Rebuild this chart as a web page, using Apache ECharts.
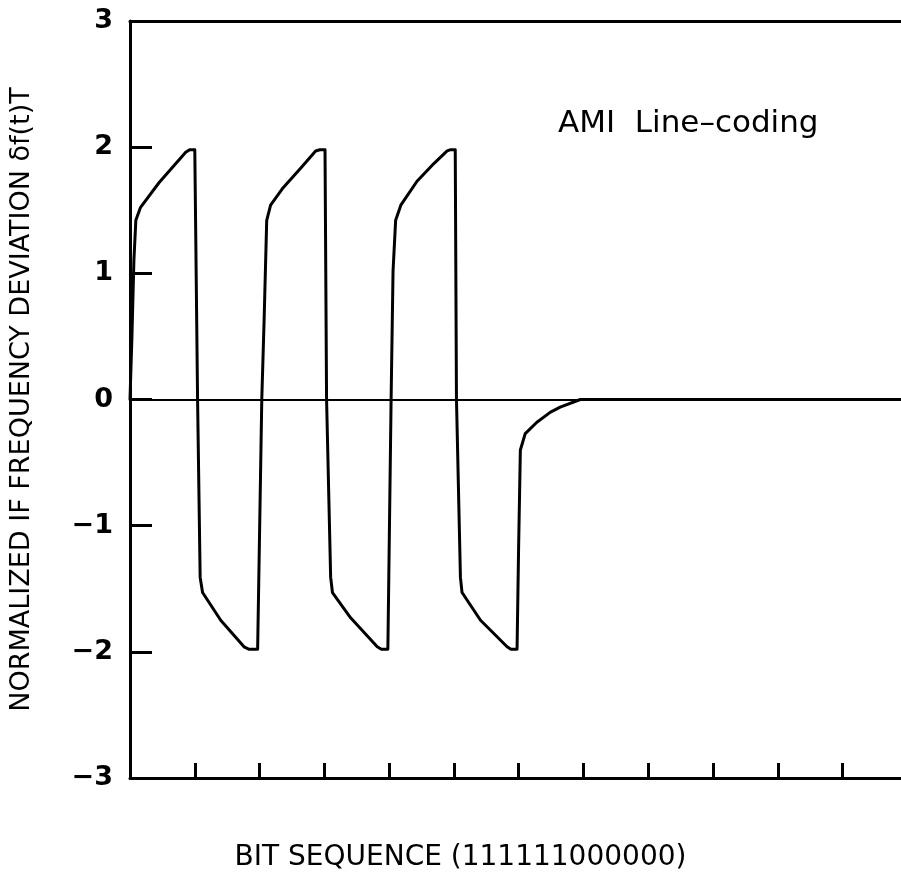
<!DOCTYPE html>
<html>
<head>
<meta charset="utf-8">
<script src="https://cdn.jsdelivr.net/npm/echarts@6/dist/echarts.min.js"></script>
<style>
html,body{margin:0;padding:0;background:#fff;}
#chart{width:901px;height:883px;}
</style>
</head>
<body>
<div id="chart"></div>
<script>
// Time in bit periods (T) along the bit sequence 111111000000
var timeBits = [
  0, 0.03, 0.06, 0.09, 0.16, 0.45, 0.86, 0.92, 1.0,
  1.015, 1.043, 1.083, 1.12, 1.40, 1.76, 1.84, 1.97,
  2.034, 2.07, 2.11, 2.17, 2.35, 2.63, 2.865, 2.93, 3.01,
  3.034, 3.097, 3.125, 3.405, 3.816, 3.88, 3.98,
  4.03, 4.06, 4.10, 4.18, 4.43, 4.69, 4.895, 4.95, 5.02,
  5.039, 5.10, 5.125, 5.41, 5.82, 5.88, 5.974,
  5.998, 6.025, 6.10, 6.28, 6.49, 6.64, 6.95, 11.9
];
// Normalized IF frequency deviation  δf(t)T
var deviation = [
  0, 0.5, 1.1, 1.42, 1.52, 1.72, 1.96, 1.98, 1.98,
  1.97, 0, -1.41, -1.53, -1.75, -1.96, -1.98, -1.98,
  0, 0.63, 1.42, 1.54, 1.67, 1.83, 1.97, 1.98, 1.98,
  0, -1.41, -1.53, -1.73, -1.96, -1.98, -1.98,
  0, 1.02, 1.42, 1.54, 1.73, 1.87, 1.97, 1.98, 1.98,
  0, -1.41, -1.53, -1.75, -1.96, -1.98, -1.98,
  -1.17, -0.40, -0.27, -0.18, -0.10, -0.06, 0, 0
];
var xTickValues = [1, 2, 3, 4, 5, 6, 7, 8, 9, 10, 11];
var yTickValues = [-3, -2, -1, 0, 1, 2, 3];
var xVisibleMax = 11.9;

var points = timeBits.map(function (t, i) { return [t, deviation[i]]; });

var chart = echarts.init(document.getElementById('chart'), null, {renderer: 'canvas'});
chart.setOption({
  backgroundColor: '#ffffff',
  animation: false,
  title: {
    text: 'AMI  Line–coding',
    left: 553,
    top: 103,
    textStyle: {fontFamily: 'DejaVu Sans', fontSize: 31, fontWeight: 'normal', color: '#000'}
  },
  grid: {left: 129, top: 21, right: 0, height: 757, show: false},
  xAxis: [{
    type: 'value',
    min: 0, max: xVisibleMax,
    name: 'BIT SEQUENCE (111111000000)',
    nameLocation: 'middle',
    nameGap: 66,
    nameTextStyle: {fontFamily: 'DejaVu Sans', fontSize: 28, color: '#000', padding: [0, 110, 0, 0]},
    axisLine: {show: true, onZero: false, lineStyle: {color: '#000', width: 3}},
    axisTick: {show: true, inside: true, length: 15, customValues: xTickValues, lineStyle: {color: '#000', width: 3}},
    axisLabel: {show: false},
    splitLine: {show: false}
  }, {
    type: 'value',
    position: 'top',
    min: 0, max: xVisibleMax,
    axisLine: {show: true, onZero: false, lineStyle: {color: '#000', width: 3}},
    axisTick: {show: false},
    axisLabel: {show: false},
    splitLine: {show: false}
  }],
  yAxis: {
    type: 'value',
    min: -3, max: 3, interval: 1,
    name: 'NORMALIZED IF FREQUENCY DEVIATION δf(t)T',
    nameLocation: 'middle',
    nameGap: 95,
    nameRotate: 90,
    nameTextStyle: {fontFamily: 'DejaVu Sans', fontSize: 27, color: '#000'},
    axisLine: {show: true, onZero: false, lineStyle: {color: '#000', width: 3}},
    axisTick: {show: true, inside: true, length: 22, lineStyle: {color: '#000', width: 3}},
    axisLabel: {
      margin: 17,
      fontFamily: 'DejaVu Sans', fontSize: 27, fontWeight: 'bold', color: '#000',
      formatter: function (v) {
        return yTickValues.indexOf(v) >= 0 ? String(v).replace('-', '−') : '';
      }
    },
    splitLine: {show: false}
  },
  series: [{
    type: 'line',
    data: points,
    showSymbol: false,
    smooth: false,
    clip: true,
    lineStyle: {color: '#000', width: 3, join: 'round', cap: 'round'},
    markLine: {
      silent: true,
      symbol: ['none', 'none'],
      label: {show: false},
      lineStyle: {color: '#000', width: 2, type: 'solid'},
      data: [{yAxis: 0}]
    }
  }]
});
</script>
</body>
</html>
